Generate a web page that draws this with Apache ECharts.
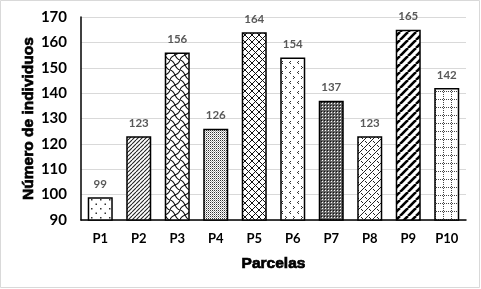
<!DOCTYPE html>
<html><head><meta charset="utf-8">
<script src="https://cdn.jsdelivr.net/npm/echarts@6/dist/echarts.min.js"></script>
<style>html,body{margin:0;padding:0;background:#fff}#c{width:481px;height:289px}</style>
</head><body><div id="c"></div>
<script>
const categories = ['P1','P2','P3','P4','P5','P6','P7','P8','P9','P10'];
const values = [99,123,156,126,164,154,137,123,165,142];
const yTicks = [90,100,110,120,130,140,150,160,170];

function pat(w,h,draw,bg){const c=document.createElement('canvas');c.width=w;c.height=h;const g=c.getContext('2d');g.fillStyle=bg||'#fff';g.fillRect(0,0,w,h);draw(g,w,h);return {image:c,repeat:'repeat'};}
function diag(g,s,dir){for(let k=-1;k<=1;k++){g.beginPath();if(dir>0){g.moveTo(k*s,s);g.lineTo(k*s+s,0);}else{g.moveTo(k*s,0);g.lineTo(k*s+s,s);}g.stroke();}}
const patterns = [
  pat(9,9,g=>{g.fillStyle='#333';g.fillRect(1,1,1.5,1.5);g.fillRect(5.5,5.5,1.5,1.5);}),
  pat(4,4,(g,s)=>{g.strokeStyle='#222';g.lineWidth=1.1;diag(g,4,1);}),
  pat(10,10,g=>{g.strokeStyle='#111';g.lineWidth=1.1;g.beginPath();g.moveTo(0,0);g.bezierCurveTo(6,1,4,9,10,10);g.stroke();g.beginPath();g.moveTo(10,0);g.bezierCurveTo(9,6,1,4,0,10);g.stroke();}),
  pat(2,2,g=>{g.fillStyle='#333';g.fillRect(0,0,1,1);g.fillStyle='#aaa';g.fillRect(1,1,1,1);}),
  pat(7,7,g=>{g.strokeStyle='#111';g.lineWidth=1;diag(g,7,1);diag(g,7,-1);}),
  pat(8,10,g=>{g.fillStyle='#333';g.fillRect(2,1,1,1);g.fillRect(1,2,1,1);g.fillRect(2,3,1,1);g.fillRect(5,6,1,1);g.fillRect(6,7,1,1);g.fillRect(5,8,1,1);}),
  pat(3,3,g=>{g.fillStyle='#fff';g.fillRect(1,1,1,1);g.fillStyle='#111';g.fillRect(0,0,1,1);},'#666'),
  pat(8,8,g=>{g.strokeStyle='#222';g.lineWidth=1;diag(g,8,1);g.beginPath();g.moveTo(1,1);g.lineTo(3,3);g.moveTo(5,5);g.lineTo(7,7);g.stroke();}),
  pat(8,8,g=>{g.strokeStyle='#000';g.lineWidth=2.6;diag(g,8,1);}),
  pat(8,8,g=>{g.fillStyle='#444';for(let i=0;i<8;i+=2){g.fillRect(i,3,1,1);g.fillRect(3,i,1,1);}})
];

const titleStyle = {color:'#000',fontWeight:'bold',fontSize:15.5,fontFamily:'"Liberation Sans", Arial, sans-serif',textBorderColor:'#000',textBorderWidth:0.7};
const chart = echarts.init(document.getElementById('c'), null, {renderer:'canvas'});
chart.setOption({
  animation:false,
  backgroundColor:'#fff',
  graphic:[{type:'rect',shape:{x:0.5,y:0.5,width:479,height:287},style:{fill:'none',stroke:'#d9d9d9',lineWidth:1},silent:true}],
  grid:{left:81,right:15,top:17,bottom:69,containLabel:false},
  xAxis:{type:'category',data:categories,
    axisLine:{lineStyle:{color:'#000',width:1.5}},axisTick:{show:false},
    axisLabel:{color:'#000',fontWeight:'bold',fontSize:13,fontFamily:'Lato, "Open Sans", sans-serif',margin:12},
    name:'Parcelas',nameLocation:'middle',nameGap:36,
    nameTextStyle:titleStyle},
  yAxis:{type:'value',min:90,max:170,interval:10,
    axisLine:{show:true,lineStyle:{color:'#000',width:1.5}},axisTick:{show:false},
    splitLine:{lineStyle:{color:'#d9d9d9',width:1}},
    axisLabel:{color:'#000',fontWeight:'bold',fontSize:15,fontFamily:'Lato, "Open Sans", sans-serif',margin:14,
      formatter:v=>yTicks.includes(v)?String(v):''},
    name:'Número de individuos',nameLocation:'middle',nameGap:44,nameMoveOverlap:false,
    nameTextStyle:titleStyle},
  series:[{type:'bar',barWidth:'65%',
    data:values.map((v,i)=>({value:v,itemStyle:{color:patterns[i]}})),
    itemStyle:{borderColor:'#000',borderWidth:1.5},
    label:{show:true,position:'top',distance:7,color:'#595959',fontWeight:'bold',fontSize:11.5,fontFamily:'Lato, "Open Sans", sans-serif'}}]
});
</script></body></html>
